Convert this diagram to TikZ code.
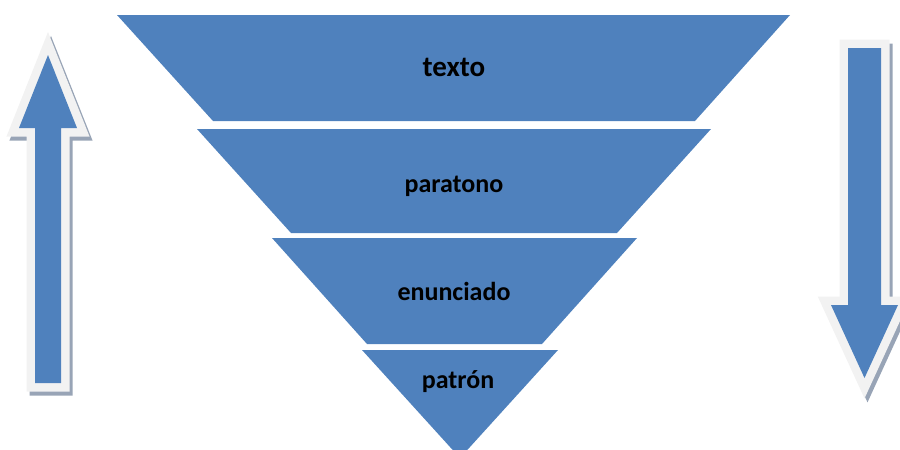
\documentclass[tikz,border=0pt]{standalone}
\usepackage{fontspec}
\setmainfont{Carlito}
\definecolor{fillblue}{HTML}{4F81BD}
\definecolor{rimgray}{HTML}{F2F2F2}
\definecolor{shadowgray}{HTML}{98A4B6}
\tikzset{
  layer/.style={fill=fillblue, draw=none},
  lbl/.style={font=\bfseries\fontsize{26}{26}\selectfont, text=black, anchor=base, inner sep=0pt},
  bigl/.style={lbl, font=\bfseries\fontsize{29}{29}\selectfont},
  arrowshadow/.style={draw=shadowgray, fill=shadowgray, line width=17pt, line join=miter},
  arrowrim/.style={draw=rimgray, line width=17pt, line join=miter},
  arrowbody/.style={fill=fillblue, draw=none}
}
\begin{document}
\begin{tikzpicture}[x=1pt,y=-1pt]
\useasboundingbox (0,0) rectangle (900,450);
\clip (0,0) rectangle (900,450);
% pyramid layers
\path[layer] (117,15) -- (790,15) -- (695,121) -- (213,121) -- cycle;
\path[layer] (197,129) -- (711,129) -- (617,233) -- (291,233) -- cycle;
\path[layer] (272,238) -- (637,238) -- (542,344) -- (367,344) -- cycle;
\path[layer] (362,350) -- (558,350) -- (460,458) -- cycle;
% labels
\node[bigl] (texto) at (454,76) {texto};
\node[lbl] (paratono) at (454,192) {paratono};
\node[lbl] (enunciado) at (454,300) {enunciado};
\node[lbl] (patron) at (458,388) {patrón};
% left up arrow
\begin{scope}[shift={(3,4)}]
\path[arrowshadow] (48,55) -- (77,128) -- (61,128) -- (61,383) -- (35,383) -- (35,128) -- (19,128) -- cycle;
\end{scope}
\path[arrowrim] (48,55) -- (77,128) -- (61,128) -- (61,383) -- (35,383) -- (35,128) -- (19,128) -- cycle;
\path[arrowbody] (48,55) -- (77,128) -- (61,128) -- (61,383) -- (35,383) -- (35,128) -- (19,128) -- cycle;
% right down arrow
\begin{scope}[shift={(3,4)}]
\path[arrowshadow] (848,48) -- (881,48) -- (881,305) -- (898,305) -- (864.5,378) -- (831,305) -- (848,305) -- cycle;
\end{scope}
\path[arrowrim] (848,48) -- (881,48) -- (881,305) -- (898,305) -- (864.5,378) -- (831,305) -- (848,305) -- cycle;
\path[arrowbody] (848,48) -- (881,48) -- (881,305) -- (898,305) -- (864.5,378) -- (831,305) -- (848,305) -- cycle;
\end{tikzpicture}
\end{document}
